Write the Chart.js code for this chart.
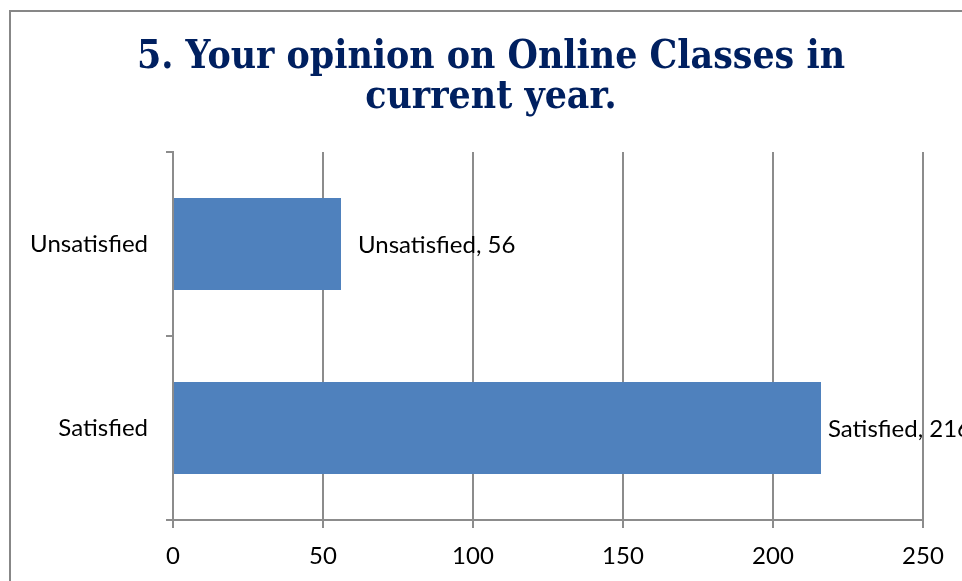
<!DOCTYPE html>
<html>
<head>
<meta charset="utf-8">
<script src="https://cdn.jsdelivr.net/npm/chart.js@4"></script>
<style>
  html, body { margin: 0; padding: 0; background: #fff; overflow: hidden; }
  #frame {
    position: absolute;
    left: 9px;
    top: 10px;
    width: 960px;
    height: 600px;
    border: 2px solid #878787;
  }
  #chart { display: block; }
</style>
</head>
<body>
<div id="frame">
  <canvas id="chart" width="960" height="600"></canvas>
</div>
<script>
// data
const categories = ["Unsatisfied", "Satisfied"];
const responses = [56, 216];
const titleLines = ["5. Your opinion on Online Classes in", "current year."];
const xTicks = [0, 50, 100, 150, 200, 250];

const labelFont = "Lato, 'Open Sans', sans-serif";

// title drawn by hand so it centres on the whole frame, squeezed a bit like the wide slab serif
const chartTitle = {
  id: "chartTitle",
  afterDraw(chart) {
    const ctx = chart.ctx;
    ctx.save();
    ctx.font = "bold 40px 'DejaVu Serif', serif";
    ctx.fillStyle = "#002060";
    ctx.textAlign = "center";
    ctx.textBaseline = "alphabetic";
    const squeeze = 708 / ctx.measureText(titleLines[0]).width;
    ctx.translate(chart.width / 2, 0);
    ctx.scale(squeeze, 1);
    ctx.fillText(titleLines[0], 0, 56);
    ctx.fillText(titleLines[1], 0, 96);
    ctx.restore();
  }
};

// draws "Category, value" right of each bar, pulled back if it would run off the chart
const barLabels = {
  id: "barLabels",
  afterDatasetsDraw(chart) {
    const ctx = chart.ctx;
    const meta = chart.getDatasetMeta(0);
    ctx.save();
    ctx.font = "24px " + labelFont;
    ctx.fillStyle = "#000";
    ctx.textBaseline = "middle";
    meta.data.forEach((bar, i) => {
      const text = categories[i] + ", " + responses[i];
      const w = ctx.measureText(text).width;
      let x = bar.x + 17;
      if (x + w > chart.width) x = chart.width - w;
      ctx.fillText(text, x, bar.y + 1);
    });
    ctx.restore();
  }
};

const ctx = document.getElementById("chart");

window.chart = new Chart(ctx, {
  type: "bar",
  data: {
    labels: categories,
    datasets: [{
      label: "Responses",
      data: responses,
      backgroundColor: "#4F81BD",
      borderWidth: 0,
      barPercentage: 0.5,
      categoryPercentage: 1
    }]
  },
  options: {
    indexAxis: "y",
    responsive: false,
    animation: false,
    layout: { padding: { left: 0, right: 48, top: 140, bottom: 0 } },
    plugins: {
      legend: { display: false },
      tooltip: { enabled: false },
      title: { display: false }
    },
    scales: {
      x: {
        min: 0,
        max: 250,
        afterFit(scale) { scale.height = 92; },
        afterBuildTicks(scale) { scale.ticks = xTicks.map(v => ({ value: v })); },
        grid: {
          color: "#8c8c8c",
          lineWidth: 2,
          tickLength: 8,
          drawTicks: true
        },
        border: { color: "#8c8c8c", width: 2 },
        ticks: {
          color: "#000",
          padding: 14,
          maxRotation: 0,
          font: { family: labelFont, size: 24 }
        }
      },
      y: {
        afterFit(scale) { scale.width = 162; },
        grid: {
          offset: true,
          drawOnChartArea: false,
          color: "#8c8c8c",
          lineWidth: 2,
          tickLength: 7
        },
        border: { color: "#8c8c8c", width: 2 },
        ticks: {
          color: "#000",
          padding: 18,
          font: { family: labelFont, size: 24 }
        }
      }
    }
  },
  plugins: [barLabels, chartTitle]
});
</script>
</body>
</html>
